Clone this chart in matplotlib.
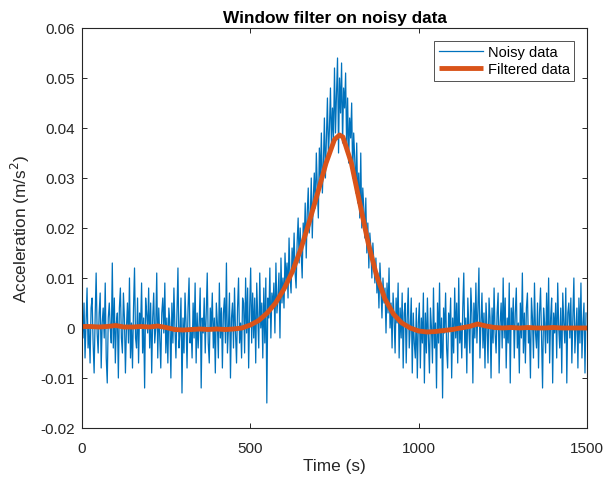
import matplotlib
matplotlib.use("Agg")
import matplotlib.pyplot as plt
import numpy as np

# ---- data (acceleration values in units of 1e-3 m/s^2) ----
noisy_time_step = 3  # seconds between noisy samples
noisy_milli = [
    3, -2, 5, -6, 1, 8, -4, 0, -7, 4,
    6, -3, -9, 2, 11, -1, -5, 3, 7, -8,
    1, 4, -2, 9, -6, -11, 2, 5, 0, -3,
    13, -4, 6, -7, 1, 3, -10, 4, 8, -2,
    -5, 7, 2, -9, 0, 5, -3, 10, -6, 1,
    -8, 4, 12, -2, -4, 6, -7, 3, 0, 9,
    -5, 2, -12, 6, 3, -1, 8, -4, 5, -9,
    2, 7, -3, 0, 11, -6, 4, -2, -8, 3,
    6, -1, 9, -5, 2, -7, 4, 1, -10, 5,
    -3, 8, 0, -6, 3, 12, -4, -1, 6, -13,
    2, -5, 7, 1, -8, 4, 10, -3, 0, -6,
    5, -2, 9, -7, 3, -4, 1, 8, -12, 2,
    -1, 6, -5, 3, 11, -3, -7, 4, 0, 7,
    -4, 2, -9, 5, 1, -6, 9, -2, 4, -8,
    3, 6, -3, 13, -5, 0, 7, -10, 2, 5,
    -4, 8, -1, -7, 4, 10, -3, 1, -6, 6,
    5, -5, 10, -1, 8, -8, 4, 12, -3, 7,
    -2, 6, -7, 9, 2, -4, 11, 0, 5, -6,
    8, -3, 10, -15, 6, 2, 12, -2, 7, 4,
    9, -1, 13, 3, 6, 11, -2, 14, 5, 10,
    4, 15, 9, 13, 6, 18, 10, 7, 16, 12,
    19, 11, 8, 17, 22, 13, 20, 15, 10, 21,
    17, 25, 14, 23, 28, 19, 22, 30, 18, 26,
    31, 24, 35, 28, 22, 36, 30, 39, 27, 33,
    42, 30, 38, 46, 34, 40, 48, 36, 44, 38,
    52, 39, 47, 54, 35, 50, 43, 53, 37, 48,
    44, 51, 36, 46, 33, 42, 38, 45, 30, 39,
    34, 27, 37, 25, 31, 22, 35, 20, 28, 24,
    18, 26, 15, 21, 12, 19, 16, 10, 17, 13,
    9, 14, 7, 11, 4, 13, 8, 2, 10, 5,
    8, -1, 9, 3, 12, 0, 5, -4, 7, 2,
    -5, 6, 1, 9, -6, 4, -2, 7, -8, 3,
    5, -7, 2, 8, -4, 0, 6, -9, 3, -3,
    -6, 4, -10, 1, 5, -8, 2, -3, 7, -11,
    3, -5, 6, -2, -9, 4, 0, -7, 8, -4,
    1, -12, 5, -3, 9, -6, 2, -14, 4, -1,
    7, -4, -8, 3, 0, 6, -10, 2, -5, 8,
    -2, 5, -7, 10, -3, 1, -6, 4, 11, -4,
    2, -9, 6, 0, -5, 8, 3, -11, 5, -2,
    9, -3, 4, 12, -6, 1, 7, -4, 3, -8,
    5, 0, -7, 6, 2, -10, 4, -3, 8, -1,
    -5, 3, 7, -9, 1, 5, -4, 10, -2, 6,
    -8, 2, -3, 9, -11, 4, 0, 6, -6, 3,
    8, -4, 1, -9, 5, -2, 11, -5, 3, -7,
    4, 7, -3, 0, -10, 6, 2, -6, 9, -1,
    -4, 5, -8, 3, 8, -2, -12, 4, 1, -5,
    7, -3, 10, -7, 2, 6, -11, 3, -1, 5,
    -6, 9, 0, -4, 4, -9, 7, 1, -3, 8,
    -11, 3, 5, -2, 6, -7, 2, 10, -5, 0,
    4, -8, 6, -3, 9, -6, 1, 5, -9, 3,
]

filtered_time = [
    0, 25, 50, 75, 100, 125, 150, 175, 200, 225,
    250, 275, 300, 325, 350, 375, 400, 425, 450, 475,
    500, 525, 550, 575, 600, 625, 650, 675, 700, 725,
    750, 765, 775, 800, 825, 850, 875, 900, 925, 950,
    975, 1000, 1025, 1050, 1075, 1100, 1125, 1150, 1175, 1200,
    1225, 1250, 1275, 1300, 1325, 1350, 1375, 1400, 1425, 1450,
    1475, 1500,
]
filtered_milli = [
    0.3, 0.3, 0.2, 0.3, 0.5, 0.2, 0.2, 0.3, 0.2, 0.4,
    0.1, -0.3, -0.4, -0.3, -0.2, -0.3, -0.2, -0.3, -0.2, 0.0,
    0.6, 1.5, 3.0, 5.0, 7.8, 11.3, 15.8, 21.2, 27.0, 33.0,
    37.7, 38.6, 38.2, 33.0, 25.0, 17.0, 10.5, 5.8, 2.8, 1.0,
    0.0, -0.6, -0.8, -0.7, -0.5, -0.3, 0.0, 0.3, 0.8, 0.4,
    0.1, 0.0, 0.1, 0.0, 0.1, 0.0, 0.0, 0.1, 0.0, 0.0,
    0.0, 0.0,
]

x_ticks = [0, 500, 1000, 1500]
y_ticks = [-0.02, -0.01, 0, 0.01, 0.02, 0.03, 0.04, 0.05, 0.06]
y_tick_labels = ["-0.02", "-0.01", "0", "0.01", "0.02", "0.03", "0.04", "0.05", "0.06"]

# ---- figure ----
plt.rcParams["font.family"] = ["Liberation Sans", "DejaVu Sans"]
plt.rcParams["axes.unicode_minus"] = False

fig = plt.figure(figsize=(6.14, 4.81), dpi=100)
ax = fig.add_axes([82 / 614, 1 - 429 / 481, (587 - 82) / 614, (429 - 29) / 481])

noisy_time = np.arange(len(noisy_milli)) * noisy_time_step
noisy = np.array(noisy_milli) / 1000.0
filtered = np.array(filtered_milli) / 1000.0

ax.plot(noisy_time, noisy, color="#0072BD", lw=0.9, label="Noisy data")
ax.plot(filtered_time, filtered, color="#D95319", lw=3.5, label="Filtered data",
        solid_capstyle="butt")

ax.set_xlim(0, 1500)
ax.set_ylim(-0.02, 0.06)
ax.set_xticks(x_ticks)
ax.set_xticklabels([str(t) for t in x_ticks])
ax.set_yticks(y_ticks)
ax.set_yticklabels(y_tick_labels)

axis_col = "#262626"
for s in ax.spines.values():
    s.set_color(axis_col)
    s.set_linewidth(0.8)
ax.tick_params(direction="in", length=3.5, width=0.7, colors=axis_col,
               labelsize=11, top=True, right=True)
ax.tick_params(axis="x", pad=9.5)
ax.tick_params(axis="y", pad=5)

ax.set_title("Window filter on noisy data", fontsize=12.4, fontweight="bold",
             color="black", pad=4)
ax.set_xlabel("Time (s)", fontsize=12.4, color=axis_col, labelpad=2)
ax.set_ylabel("Acceleration (m/s$^2$)", fontsize=12.4, color=axis_col, labelpad=6)

leg = ax.legend(loc="upper right", fontsize=10.5, frameon=True, fancybox=False,
                edgecolor=axis_col, borderpad=0.3, handlelength=3.05,
                handletextpad=0.3, labelspacing=0.2, borderaxespad=0.9)
leg.get_frame().set_linewidth(0.7)

fig.savefig("out.png", dpi=100, facecolor="white")
